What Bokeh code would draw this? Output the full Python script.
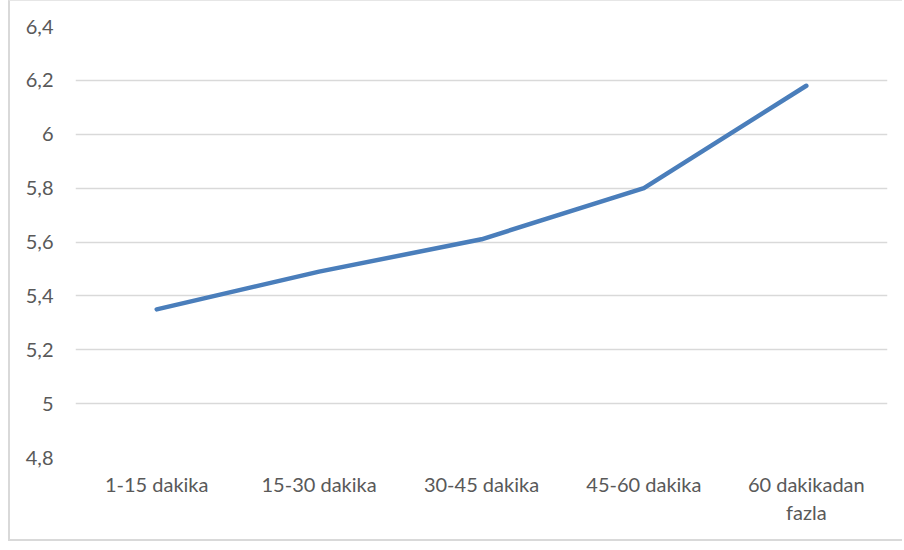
from bokeh.plotting import figure
from bokeh.models import FactorRange, Range1d, FixedTicker
from bokeh.embed import file_html
from bokeh.resources import INLINE

# Travel-time groups and mean scores
categories = ["1-15 dakika", "15-30 dakika", "30-45 dakika", "45-60 dakika", "60 dakikadan\nfazla"]
values = [5.35, 5.49, 5.61, 5.80, 6.18]

# Value axis ticks with decimal-comma labels
y_ticks = [4.8, 5.0, 5.2, 5.4, 5.6, 5.8, 6.0, 6.2, 6.4]
y_tick_labels = ["4,8", "5", "5,2", "5,4", "5,6", "5,8", "6", "6,2", "6,4"]

FONT = "Lato"
TEXT_COLOR = "#595959"
GRID_COLOR = "#d9d9d9"
LINE_COLOR = "#4A7EBB"

p = figure(
    width=894, height=541,
    x_range=FactorRange(*categories, range_padding=0),
    y_range=Range1d(y_ticks[0], y_ticks[-1]),
    output_backend="svg", toolbar_location=None,
    min_border_left=65, min_border_right=17,
    min_border_top=25, min_border_bottom=85,
    margin=(0, 0, 0, 8),
)
p.styles = {
    "border-left": "2px solid #d9d9d9",
    "border-top": "1px solid #e6e6e6",
    "border-bottom": "2px solid #d9d9d9",
}
p.outline_line_color = None
p.background_fill_color = "white"
p.border_fill_color = "white"

p.line(x=categories, y=values, line_width=4.5, line_color=LINE_COLOR,
       line_cap="round", line_join="round")

# Axes: labels only, no lines or ticks
for ax in (p.xaxis[0], p.yaxis[0]):
    ax.axis_line_color = None
    ax.major_tick_line_color = None
    ax.minor_tick_line_color = None
    ax.major_tick_out = 0
    ax.major_tick_in = 0
    ax.major_label_text_font = FONT
    ax.major_label_text_font_size = "20px"
    ax.major_label_text_color = TEXT_COLOR

p.yaxis.ticker = FixedTicker(ticks=y_ticks)
p.yaxis.major_label_overrides = {t: lab for t, lab in zip(y_ticks, y_tick_labels)}
p.yaxis.major_label_standoff = 22
p.xaxis.major_label_standoff = 14

p.xgrid.grid_line_color = None
p.ygrid.ticker = FixedTicker(ticks=y_ticks)
p.ygrid.grid_line_color = GRID_COLOR
p.ygrid.grid_line_width = 1.5

open("out.html", "w").write(file_html(p, INLINE))
